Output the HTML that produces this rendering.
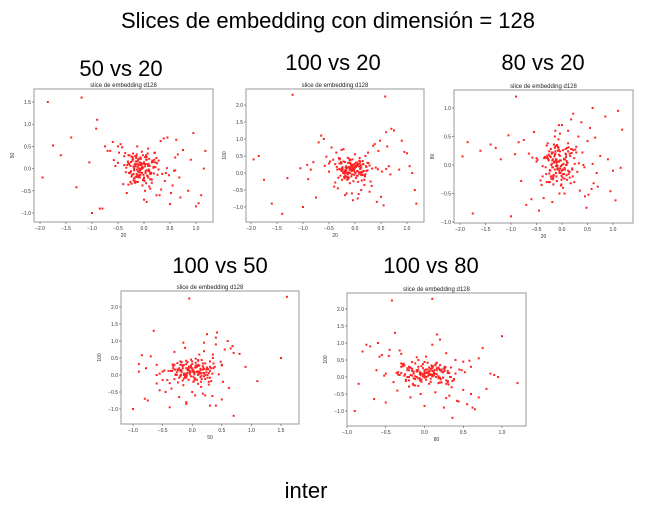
<!DOCTYPE html>
<html><head><meta charset="utf-8">
<style>
body{margin:0;background:#fff;width:655px;height:513px;overflow:hidden;font-family:"Liberation Sans",sans-serif;}
svg{position:absolute;left:0;top:0}
</style></head>
<body>
<svg id="s" width="655" height="513">
<text x="328" y="28" font-size="22" text-anchor="middle" fill="#000">Slices de embedding con dimensión = 128</text>
<text x="121" y="76" font-size="22" text-anchor="middle">50 vs 20</text>
<text x="333" y="70" font-size="22" text-anchor="middle">100 vs 20</text>
<text x="543" y="70" font-size="22" text-anchor="middle">80 vs 20</text>
<text x="220" y="273" font-size="22" text-anchor="middle">100 vs 50</text>
<text x="431" y="273" font-size="22" text-anchor="middle">100 vs 80</text>
<text x="306" y="498" font-size="22" text-anchor="middle">inter</text>
</svg>
<script>
const d20=[-0.1,-0.05,-0.15,0.0,-0.2,-0.12,0.05,-0.08,-0.25,0.1,-0.3,-0.02,0.15,-0.18,-0.1,0.2,-0.35,0.02,-0.07,0.25,-0.4,0.08,-0.14,0.3,-0.22,-0.05,0.12,-0.5,0.35,-0.28,0.0,-0.16,0.4,-0.6,0.18,-0.09,0.5,-0.7,0.22,-0.33,0.45,-0.04,0.6,-0.8,0.28,-0.45,0.55,-0.11,0.7,-0.9,0.65,-0.19,0.38,-1.0,0.75,-0.55,0.05,-1.2,0.85,-0.38,0.48,-1.4,1.0,-0.13,0.58,-1.6,1.1,-0.26,0.32,-1.85,1.15,-0.65,0.42,-1.95,1.05,-0.06,0.62,-1.3,0.95,-0.75,0.15,-1.05,0.52,-0.48,0.68,-0.92,-0.03,0.26,-0.21,0.09,-0.31,0.13,-0.17,0.04,-0.24,0.19,-0.42,0.33,-0.58,0.44,0.12,-0.01,-0.13,0.07,-0.36,0.24,1.18,0.9,-1.75,-0.85,0.6,-0.5,0.02,-0.2,
-0.12,-0.08,0.02,-0.18,-0.04,-0.22,0.06,-0.1,-0.14,0.0,-0.26,0.1,-0.06,-0.16,0.04,-0.2,-0.02,-0.3,0.14,-0.11,-0.07,0.08,-0.24,-0.13,0.03,-0.17,0.18,-0.09,-0.28,0.01,-0.15,0.12,-0.05,-0.21,0.07,-0.32,-0.01,0.16,-0.19,-0.03,0.22,-0.12,-0.27,0.05,-0.08,0.11,-0.23,-0.14,0.09,-0.06,-0.18,0.2,-0.1,-0.34,0.0,-0.16,0.13,-0.04,-0.25,0.06,-0.11,0.24,-0.2,-0.07,0.15,-0.29,-0.02,0.1,-0.13,-0.38,0.04,-0.17,0.19,-0.09,-0.22,0.08,-0.05,0.28,-0.15,-0.01,-0.26,0.12,-0.1,0.03,-0.19,-0.3,0.17,-0.06,-0.12,0.02,-0.24,0.09,-0.14,-0.04,0.21,-0.18,-0.08,0.05,-0.31,0.14];
const d50=[0.0,-0.1,0.1,-0.2,0.05,-0.3,0.2,-0.05,0.15,-0.4,0.3,0.02,-0.25,0.1,-0.15,0.35,-0.08,-0.5,0.25,0.12,-0.35,0.45,-0.02,-0.6,0.2,0.08,-0.45,0.5,-0.12,0.3,-0.7,0.05,-0.28,0.6,0.15,-0.18,-0.8,0.4,0.03,-0.55,0.7,-0.1,0.25,-0.9,0.18,0.55,-0.38,0.1,-0.65,1.1,0.32,-0.22,0.68,-1.0,0.42,0.06,-0.75,1.6,-0.5,0.28,-0.15,0.7,-0.85,0.5,-0.05,0.3,-0.6,-0.3,0.62,1.5,0.0,0.4,-0.1,-0.2,-0.78,0.22,0.65,-0.42,0.8,0.5,-0.32,0.14,-0.55,0.36,-0.2,0.9,0.04,-0.14,0.22,-0.06,0.16,-0.24,0.09,-0.33,0.27,-0.11,0.48,-0.47,0.19,0.01,-0.09,0.11,-0.19,0.34,0.35,-0.6,0.4,0.2,0.52,-0.9,-0.04,0.13,
0.05,-0.12,0.18,-0.04,0.1,-0.22,0.0,0.26,-0.16,0.08,-0.3,0.14,-0.08,0.22,-0.02,-0.18,0.3,0.04,-0.26,0.12,-0.1,0.2,-0.14,0.06,-0.34,0.16,-0.06,0.28,0.02,-0.2,0.1,-0.28,0.24,-0.12,0.0,0.34,-0.16,0.08,-0.24,0.18,-0.04,-0.38,0.14,0.04,-0.1,0.26,-0.2,0.06,-0.14,0.32,-0.02,0.12,-0.3,0.2,-0.08,0.02,-0.22,0.16,-0.12,0.38,-0.06,0.1,-0.18,0.24,-0.26,0.0,0.14,-0.1,0.3,-0.04,-0.16,0.08,0.2,-0.32,0.04,-0.08,0.18,-0.2,0.12,-0.02,0.28,-0.14,0.06,-0.24,0.22,-0.1,0.0,-0.36,0.16,0.08,-0.06,0.26,-0.18,0.1,-0.12,0.02,0.36,-0.28,0.14,-0.04];
const d80=[0.05,-0.1,0.15,0.0,-0.2,0.1,-0.05,0.25,-0.15,0.3,-0.3,0.08,0.2,-0.25,0.35,-0.08,0.12,-0.4,0.45,0.02,-0.35,0.18,0.5,-0.12,0.28,-0.5,0.6,0.06,-0.45,0.38,0.7,-0.18,0.22,-0.6,0.8,-0.02,0.42,-0.7,0.9,0.14,-0.55,0.55,1.0,-0.28,0.32,-0.8,0.65,0.04,-0.38,1.2,0.48,-0.65,0.75,-0.9,0.16,0.58,-0.5,0.1,0.85,-0.2,-0.75,0.36,-0.1,0.6,-0.42,0.25,0.95,-0.3,0.5,0.4,-0.05,0.2,0.0,0.15,-0.62,0.7,-0.32,0.3,-0.46,0.44,-0.22,0.52,-0.52,0.09,-0.14,0.19,-0.06,0.27,-0.24,0.07,-0.16,0.31,-0.34,0.11,-0.09,0.21,-0.27,0.03,0.13,-0.04,0.24,-0.19,0.33,0.28,-0.58,-0.3,0.62,0.1,-0.85,0.4,
0.02,0.12,-0.08,0.2,-0.14,0.06,0.26,-0.04,0.16,-0.2,0.1,0.0,0.3,-0.1,0.08,-0.26,0.18,0.04,-0.16,0.22,-0.02,0.34,-0.12,0.1,-0.06,0.14,-0.3,0.24,0.02,-0.18,0.28,-0.08,0.12,-0.22,0.06,0.38,-0.12,0.0,0.2,-0.04,-0.34,0.16,0.08,-0.14,0.26,-0.02,0.1,-0.24,0.32,0.04,-0.1,0.18,-0.18,0.06,0.22,-0.06,-0.28,0.14,0.0,0.36,-0.16,0.08,0.24,-0.08,-0.2,0.12,0.02,0.3,-0.12,0.16,-0.36,0.04,0.2,-0.02,0.1,-0.22,0.28,-0.06,0.14,0.0,-0.14,0.22,0.06,-0.26,0.18,-0.1,0.34,0.02,-0.04,0.12,-0.32,0.26,0.08,-0.16,0.16,0.0,-0.08,0.24,-0.2,0.1];
const d100=[0.1,0.2,0.0,0.15,-0.1,0.3,0.05,0.25,-0.2,0.12,0.4,-0.05,0.35,0.08,-0.3,0.5,0.18,-0.15,0.22,0.6,-0.4,0.02,0.45,-0.25,0.7,0.1,-0.5,0.28,0.8,-0.08,0.55,-0.6,0.16,1.0,-0.35,0.38,-0.7,0.9,0.06,-0.45,0.65,-0.8,1.2,0.32,-0.55,0.75,-0.95,0.42,1.3,-0.18,0.2,-0.65,0.85,-1.0,1.25,0.48,-0.75,2.3,0.1,-0.28,0.95,-1.2,0.58,0.3,2.25,-0.9,0.0,0.68,-0.38,0.5,-0.5,1.1,-0.85,0.4,0.2,-0.6,0.78,-0.15,0.62,-0.72,0.26,0.14,0.04,0.34,-0.04,0.24,0.09,0.29,-0.12,0.19,0.44,-0.22,0.07,0.31,0.17,-0.07,0.39,0.13,0.21,0.11,-0.02,0.27,0.0,-0.62,0.6,0.3,-0.9,0.95,-0.2,0.1,
0.12,0.04,0.22,-0.02,0.16,0.08,0.3,-0.08,0.2,0.0,0.26,0.1,-0.12,0.18,0.06,0.34,-0.04,0.14,0.24,-0.16,0.08,0.28,0.02,0.18,-0.1,0.36,0.12,-0.02,0.22,0.06,-0.2,0.3,0.1,0.0,0.16,-0.06,0.4,0.04,0.2,-0.14,0.14,0.26,0.08,-0.24,0.18,0.02,0.32,-0.08,0.12,0.22,0.0,-0.18,0.28,0.06,0.16,-0.04,0.38,0.1,0.2,-0.12,0.04,0.24,0.14,-0.26,0.3,0.08,0.0,0.18,-0.06,0.42,0.12,0.02,-0.16,0.26,0.06,0.2,-0.1,0.14,0.34,-0.02,0.1,0.22,-0.2,0.04,0.28,0.16,0.0,-0.08,0.32,0.12,0.06,0.24,-0.14,0.18,0.08,0.44,-0.04,0.14,0.2,0.02];
const xt20=[-2.0,-1.5,-1.0,-0.5,0.0,0.5,1.0];
const xt50=[-1.0,-0.5,0.0,0.5,1.0,1.5];
const xt80=[-1.0,-0.5,0.0,0.5,1.0];
const yt50=[-1.0,-0.5,0.0,0.5,1.0,1.5];
const yt100=[-1.0,-0.5,0.0,0.5,1.0,1.5,2.0];
const yt80=[-1.0,-0.5,0.0,0.5,1.0];

const NS='http://www.w3.org/2000/svg';
const svg=document.getElementById('s');
function mk(tag,attrs,parent){const e=document.createElementNS(NS,tag);for(const k in attrs)e.setAttribute(k,attrs[k]);(parent||svg).appendChild(e);return e;}

function plot(id,fx,fy,xs,ys,xt,yt,xa,xb,ya,yb,xlab,ylab){
  const g=mk('g',{});
  
  
  const X=v=>xa.p+(v-xa.v)*(xb.p-xa.p)/(xb.v-xa.v);
  const Y=v=>ya.p+(v-ya.v)*(yb.p-ya.p)/(yb.v-ya.v);
  const t=mk('text',{x:(fx[0]+fx[1])/2,y:fy[0]-2,'font-size':6,'text-anchor':'middle',fill:'#222'},g);
  t.textContent='slice de embedding d128';
  
  
  const n=Math.min(xs.length,ys.length);
  for(let i=0;i<n;i++){
    const c=mk('rect',{x:X(xs[i])-1,y:Y(ys[i])-1,width:2,height:2,fill:'#f22'},g);
    
    
  }
  const f=mk('rect',{x:fx[0],y:fy[0],width:fx[1]-fx[0],height:fy[1]-fy[0],fill:'none',stroke:'#999','stroke-width':1},g);
  
  
  xt.forEach(v=>{const px=X(v);mk('line',{x1:px,x2:px,y1:fy[1],y2:fy[1]+2,stroke:'#555','stroke-width':0.6},g);
    const l=mk('text',{x:px,y:fy[1]+8,'font-size':5,'text-anchor':'middle',fill:'#333'},g);l.textContent=v.toFixed(1).replace('-','−');
    
    });
  yt.forEach(v=>{const py=Y(v);mk('line',{x1:fx[0]-2,x2:fx[0],y1:py,y2:py,stroke:'#555','stroke-width':0.6},g);
    const l=mk('text',{x:fx[0]-3,y:py+2,'font-size':5,'text-anchor':'end',fill:'#333'},g);l.textContent=v.toFixed(1).replace('-','−');
    
    });
  const a=mk('text',{x:(fx[0]+fx[1])/2,y:fy[1]+15,'font-size':5,'text-anchor':'middle',fill:'#333'},g);a.textContent=xlab;
  
  
  const yy=(fy[0]+fy[1])/2;
  const b=mk('text',{x:fx[0]-20,y:yy,'font-size':5,'text-anchor':'middle',fill:'#333',transform:`rotate(-90 ${fx[0]-20} ${yy})`},g);b.textContent=ylab;
  
  
}
plot('scatter-50-vs-20',[34,213],[89,222],d20,d50,xt20,yt50,{v:-2,p:40},{v:1,p:196},{v:1.5,p:102},{v:-1,p:213},'20','50');
plot('scatter-100-vs-20',[246,424],[89,222],d20,d100,xt20,yt100,{v:-2,p:251},{v:1,p:407},{v:2,p:105},{v:-1,p:207},'20','100');
plot('scatter-80-vs-20',[454,633],[90,223],d20,d80,xt20,yt80,{v:-2,p:460},{v:1,p:613},{v:1,p:108},{v:-1,p:222},'20','80');
plot('scatter-100-vs-50',[121,299],[291,424],d50,d100,xt50,yt100,{v:-1,p:133},{v:1.5,p:281},{v:2,p:307},{v:-1,p:409},'50','100');
plot('scatter-100-vs-80',[347,526],[293,426],d80,d100,xt80,yt100,{v:-1,p:347},{v:1,p:502},{v:2,p:309},{v:-1,p:411},'80','100');
</script>
</body></html>
